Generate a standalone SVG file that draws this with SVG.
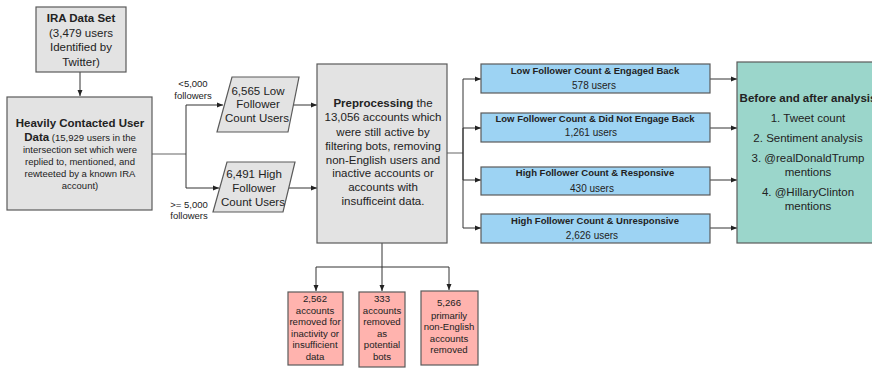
<svg xmlns="http://www.w3.org/2000/svg" width="872" height="368" viewBox="0 0 872 368">
<style>
text{font-family:"Liberation Sans",Arial,sans-serif;fill:#222;text-anchor:middle}
.gray{fill:#e3e3e3;stroke:#5a5a5a;stroke-width:1.2}
.blue{fill:#9dd3f3;stroke:#5a5a5a;stroke-width:1.2}
.green{fill:#9bd6cb;stroke:#5a5a5a;stroke-width:1.2}
.red{fill:#ffb3ae;stroke:#5a5a5a;stroke-width:1.2}
.t{font-size:11.5px}
.b{font-weight:bold}
.s{font-size:9.5px}
.bt{font-size:9.5px;font-weight:bold}
.u{font-size:10px}
.r{font-size:9.6px}
.ln{fill:none;stroke:#333;stroke-width:1}
.lg{fill:none;stroke:#999;stroke-width:1.5}
</style>
<defs>
<marker id="ah" viewBox="0 0 6 6" refX="6" refY="3" markerWidth="6" markerHeight="6" markerUnits="userSpaceOnUse" orient="auto">
<path d="M0,0.5 L6,3 L0,5.5 Z" fill="#222"/>
</marker>
</defs>
<rect width="872" height="368" fill="#fff"/>
<g id="connectors">
<path class="ln" d="M80,72 V96" marker-end="url(#ah)"/>
<path class="lg" d="M152,154 H186"/>
<path class="ln" d="M186,154 V105 H223" marker-end="url(#ah)"/>
<path class="ln" d="M186,154 V188 H219" marker-end="url(#ah)"/>
<path class="ln" d="M293,105 H317" marker-end="url(#ah)"/>
<path class="ln" d="M289,188 H317" marker-end="url(#ah)"/>
<path class="lg" d="M447,153 H463"/>
<path class="ln" d="M463,153 V79 H481" marker-end="url(#ah)"/>
<path class="ln" d="M463,153 V128 H481" marker-end="url(#ah)"/>
<path class="ln" d="M463,153 V180 H481" marker-end="url(#ah)"/>
<path class="ln" d="M463,153 V228 H481" marker-end="url(#ah)"/>
<path class="ln" d="M710,79 H737" marker-end="url(#ah)"/>
<path class="ln" d="M710,128 H737" marker-end="url(#ah)"/>
<path class="ln" d="M710,180 H737" marker-end="url(#ah)"/>
<path class="ln" d="M710,228 H737" marker-end="url(#ah)"/>
<path class="ln" d="M382,243 V267"/>
<path class="ln" d="M382,267 H316 V291" marker-end="url(#ah)"/>
<path class="ln" d="M382,267 V291" marker-end="url(#ah)"/>
<path class="ln" d="M382,267 H449 V290" marker-end="url(#ah)"/>
<text class="s" x="193" y="87">&lt;5,000</text>
<text class="s" x="193" y="99">followers</text>
<text class="s" x="189" y="208">&gt;= 5,000</text>
<text class="s" x="189" y="219">followers</text>
</g>
<g id="ira">
<rect class="gray" x="36" y="7" width="90" height="65"/>
<text class="t b" x="81" y="22">IRA Data Set</text>
<text class="t" x="81" y="37">(3,479 users</text>
<text class="t" x="81" y="51">Identified by</text>
<text class="t" x="81" y="66">Twitter)</text>
</g>
<g id="heavily">
<rect class="gray" x="7" y="97" width="145" height="113"/>
<text class="t b" x="80" y="127">Heavily Contacted User</text>
<text x="80" y="141"><tspan class="t b">Data</tspan><tspan class="s"> (15,929 users in the</tspan></text>
<text class="s" x="80" y="153">intersection set which were</text>
<text class="s" x="80" y="165">replied to, mentioned, and</text>
<text class="s" x="80" y="177">rewteeted by a known IRA</text>
<text class="s" x="80" y="189">account)</text>
</g>
<g id="low">
<polygon class="gray" points="232,77 299,77 288,132 217,132"/>
<text class="t" x="258" y="95">6,565 Low</text>
<text class="t" x="258" y="108">Follower</text>
<text class="t" x="257" y="122">Count Users</text>
</g>
<g id="high">
<polygon class="gray" points="227,162 295,162 283,212 213,212"/>
<text class="t" x="254" y="178">6,491 High</text>
<text class="t" x="254" y="192">Follower</text>
<text class="t" x="253" y="206">Count Users</text>
</g>
<g id="preprocessing">
<rect class="gray" x="317" y="64" width="130" height="179"/>
<text class="t" x="383" y="107"><tspan class="b">Preprocessing</tspan> the</text>
<text class="t" x="383" y="121">13,056 accounts which</text>
<text class="t" x="383" y="136">were still active by</text>
<text class="t" x="383" y="150">filtering bots, removing</text>
<text class="t" x="383" y="164">non-English users and</text>
<text class="t" x="383" y="177">inactive accounts or</text>
<text class="t" x="383" y="191">accounts with</text>
<text class="t" x="383" y="205">insufficeint data.</text>
</g>
<g id="lowEngaged">
<rect class="blue" x="481" y="64" width="229" height="29"/>
<text class="bt" x="595" y="74">Low Follower Count &amp; Engaged Back</text>
<text class="u" x="594" y="89">578 users</text>
</g>
<g id="lowNotEngaged">
<rect class="blue" x="481" y="113" width="229" height="29"/>
<text class="bt" x="595" y="122">Low Follower Count &amp; Did Not Engage Back</text>
<text class="u" x="591" y="136">1,261 users</text>
</g>
<g id="highResponsive">
<rect class="blue" x="481" y="167" width="229" height="28"/>
<text class="bt" x="595" y="176">High Follower Count &amp; Responsive</text>
<text class="u" x="592" y="192">430 users</text>
</g>
<g id="highUnresponsive">
<rect class="blue" x="481" y="214" width="229" height="29"/>
<text class="bt" x="595" y="224">High Follower Count &amp; Unresponsive</text>
<text class="u" x="592" y="239">2,626 users</text>
</g>
<g id="analysis">
<rect class="green" x="737" y="62" width="145" height="181"/>
<text class="t b" x="808" y="102">Before and after analysis</text>
<text class="t" x="808" y="122">1. Tweet count</text>
<text class="t" x="808" y="142">2. Sentiment analysis</text>
<text class="t" x="808" y="162">3. @realDonaldTrump</text>
<text class="t" x="808" y="176">mentions</text>
<text class="t" x="808" y="196">4. @HillaryClinton</text>
<text class="t" x="808" y="210">mentions</text>
</g>
<g id="inactive">
<rect class="red" x="288" y="292" width="55" height="73"/>
<text class="r" x="315" y="302">2,562</text>
<text class="r" x="315" y="314">accounts</text>
<text class="r" x="315" y="325">removed for</text>
<text class="r" x="315" y="337">inactivity or</text>
<text class="r" x="315" y="348">insufficient</text>
<text class="r" x="315" y="360">data</text>
</g>
<g id="bots">
<rect class="red" x="359" y="292" width="46" height="75"/>
<text class="r" x="382" y="302">333</text>
<text class="r" x="382" y="314">accounts</text>
<text class="r" x="382" y="325">removed</text>
<text class="r" x="382" y="337">as</text>
<text class="r" x="382" y="348">potential</text>
<text class="r" x="382" y="360">bots</text>
</g>
<g id="nonEnglish">
<rect class="red" x="421" y="291" width="57" height="74"/>
<text class="r" x="449" y="306">5,266</text>
<text class="r" x="449" y="319">primarily</text>
<text class="r" x="449" y="330">non-English</text>
<text class="r" x="449" y="342">accounts</text>
<text class="r" x="449" y="353">removed</text>
</g>
</svg>
